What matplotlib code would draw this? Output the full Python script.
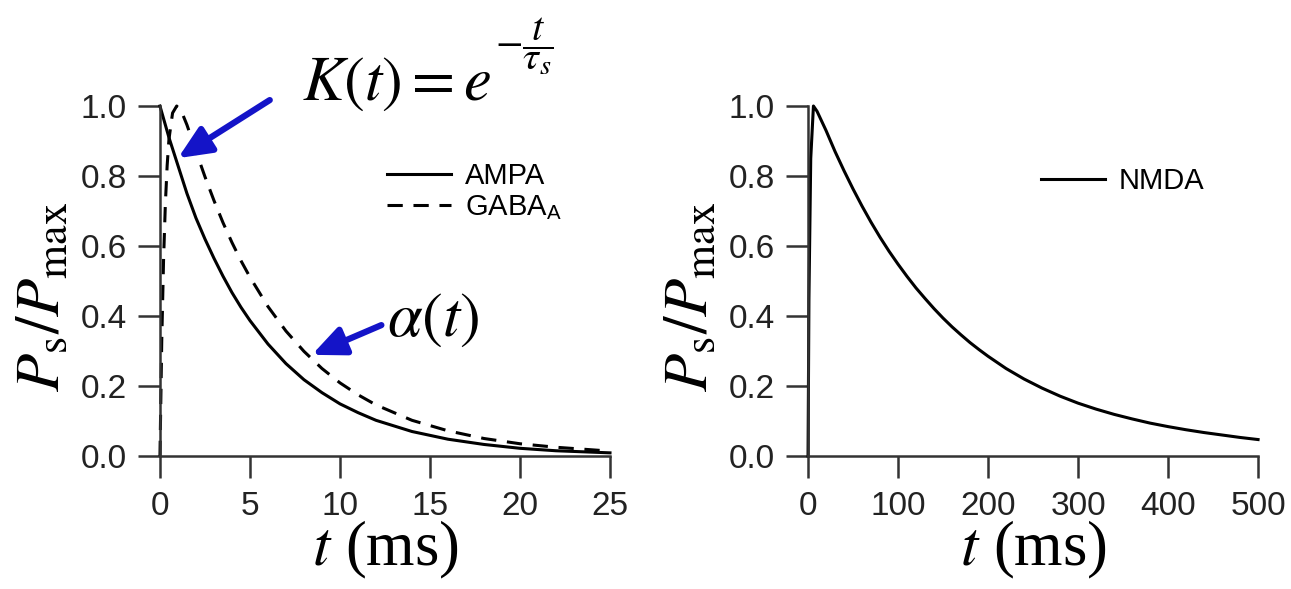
import matplotlib
matplotlib.use("Agg")
import matplotlib.pyplot as plt
from matplotlib.font_manager import FontProperties

plt.rcParams.update({
    "font.family": ["Liberation Sans", "DejaVu Sans"],
    "mathtext.fontset": "custom",
    "mathtext.rm": "Liberation Sans",
    "mathtext.it": "Liberation Sans:italic",
    "mathtext.bf": "Liberation Sans:bold",
    "axes.linewidth": 1.8,
    "axes.edgecolor": "#333333",
})

# fast synapses (left panel), t in ms
ampa_t = [0, 0.5, 1, 1.5, 2, 2.5, 3, 3.5, 4, 4.5, 5, 6, 7, 8, 9, 10, 11, 12,
          14, 16, 18, 20, 22, 25]
ampa_p = [1.0, 0.91, 0.83, 0.75, 0.68, 0.62, 0.565, 0.514, 0.467, 0.425, 0.387,
          0.32, 0.264, 0.218, 0.181, 0.149, 0.124, 0.102, 0.07, 0.048, 0.033,
          0.022, 0.015, 0.009]

gaba_t = [0, 0.1, 0.2, 0.3, 0.4, 0.5, 0.7, 0.93, 1.2, 1.5, 2, 2.5, 3, 3.5, 4,
          4.5, 5, 6, 7, 8, 9, 10, 11, 12, 14, 16, 18, 20, 22, 25]
gaba_p = [0.0, 0.33, 0.56, 0.72, 0.83, 0.905, 0.98, 1.0, 0.984, 0.946, 0.871,
          0.798, 0.73, 0.667, 0.61, 0.558, 0.511, 0.427, 0.357, 0.299, 0.25,
          0.209, 0.175, 0.146, 0.102, 0.072, 0.05, 0.035, 0.025, 0.014]

# slow synapse (right panel)
nmda_t = [0, 1, 3, 6, 10, 20, 30, 40, 50, 60, 70, 80, 90, 100, 110, 120, 130,
          140, 150, 160, 170, 180, 190, 200, 220, 240, 260, 280, 300, 320, 340,
          360, 380, 400, 420, 440, 460, 480, 500]
nmda_p = [0.0, 0.45, 0.85, 1.0, 0.985, 0.93, 0.87, 0.815, 0.763, 0.714, 0.668,
          0.625, 0.585, 0.548, 0.513, 0.48, 0.45, 0.421, 0.394, 0.369, 0.346,
          0.324, 0.304, 0.285, 0.25, 0.22, 0.194, 0.171, 0.151, 0.134, 0.119,
          0.106, 0.094, 0.084, 0.075, 0.067, 0.06, 0.053, 0.047]

left_ticks = [0, 5, 10, 15, 20, 25]
right_ticks = [0, 100, 200, 300, 400, 500]
y_ticks = [0.0, 0.2, 0.4, 0.6, 0.8, 1.0]

BLUE = "#1414c8"
LW = 2.2
serif = FontProperties(family="Liberation Serif", size=45, math_fontfamily="stix")
expo = FontProperties(family="Liberation Serif", size=29, math_fontfamily="stix")
ylab = r"$P_{\mathrm{s}}/P_{\mathrm{max}}$"
xlab = r"$t$ (ms)"

fig = plt.figure(figsize=(12.91, 5.89), dpi=100)
ax1 = fig.add_axes([0.1239, 0.2258, 0.3486, 0.5942])
ax2 = fig.add_axes([0.6259, 0.2258, 0.3486, 0.5942])


def style(ax, xmax, xticks):
    ax.set_xlim(0, xmax)
    ax.set_ylim(0, 1)
    for side in ("top", "right"):
        ax.spines[side].set_visible(False)
    ax.set_xticks(xticks)
    ax.set_yticks(y_ticks)
    ax.set_yticklabels([f"{v:.1f}" for v in y_ticks])
    ax.tick_params(direction="out", length=16, width=1.8, color="#333333",
                   labelsize=24, labelcolor="#222222")
    ax.tick_params(axis="y", pad=8)
    ax.tick_params(axis="x", pad=9)
    ax.set_ylabel(ylab, fontproperties=serif)
    ax.yaxis.set_label_coords(-0.194, 0.455)
    ax.set_xlabel(xlab, fontproperties=serif, labelpad=-2)


style(ax1, 25, left_ticks)
style(ax2, 500, right_ticks)

ax1.plot(ampa_t, ampa_p, color="black", lw=LW, clip_on=False, label="AMPA")
ax1.plot(gaba_t, gaba_p, color="black", lw=LW, ls=(0, (5, 3.5)),
         clip_on=False, label=r"GABA$_{\mathrm{A}}$")
ax2.plot(nmda_t, nmda_p, color="black", lw=LW, clip_on=False, label="NMDA")

leg_kw = dict(frameon=False, fontsize=21, handlelength=2.2, handletextpad=0.45,
              labelspacing=0.12, borderpad=0, borderaxespad=0, loc="upper left")
ax1.legend(bbox_to_anchor=(0.505, 0.84), **leg_kw)
ax2.legend(bbox_to_anchor=(0.518, 0.825), **leg_kw)

# kernel formulas and the arrows pointing at each curve
ax1.text(7.9, 1.017, r"$K(t) = e$", fontproperties=serif,
         va="baseline", ha="left", clip_on=False)
ax1.text(18.6, 1.145, r"$-\dfrac{t}{\tau_s}$", fontproperties=expo,
         va="baseline", ha="left", clip_on=False)
ax1.text(12.6, 0.343, r"$\alpha(t)$", fontproperties=serif,
         va="baseline", ha="left")
arrow = dict(arrowstyle="-|>,head_length=0.9,head_width=0.4", color=BLUE,
             lw=4.5, mutation_scale=22, shrinkA=0, shrinkB=0)
ax1.annotate("", xy=(1.0, 0.851), xytext=(6.1, 1.017), arrowprops=arrow,
             annotation_clip=False)
ax1.annotate("", xy=(8.44, 0.289), xytext=(12.3, 0.374), arrowprops=arrow)

fig.savefig("out.png", dpi=100, facecolor="white")
